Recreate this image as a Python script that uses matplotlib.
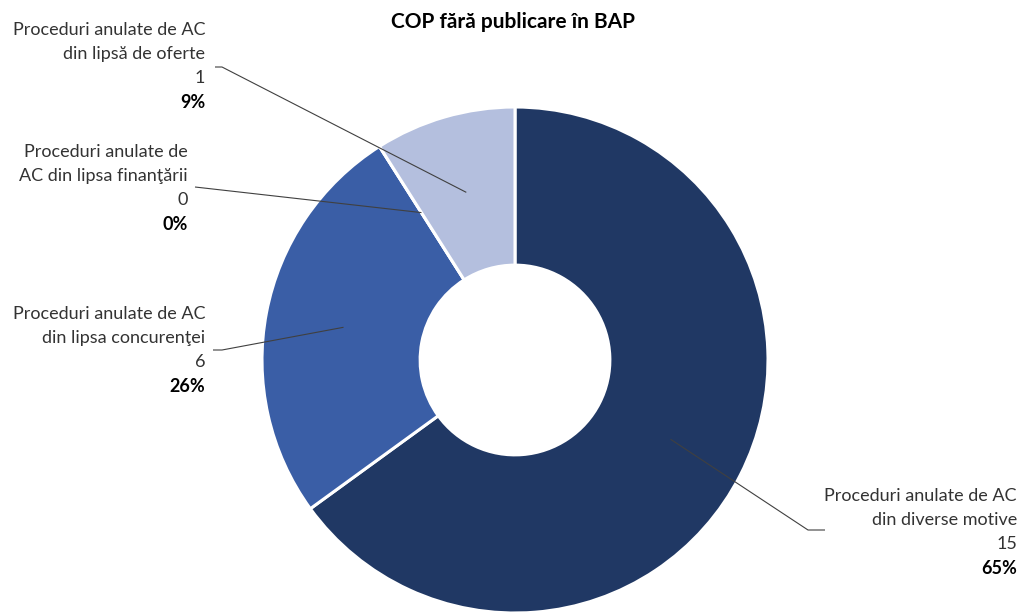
import numpy as np
import matplotlib.pyplot as plt

plt.rcParams['font.family'] = ['Lato', 'DejaVu Sans']

title = "COP fără publicare în BAP"
names = [
    "Proceduri anulate de AC\ndin diverse motive",
    "Proceduri anulate de AC\ndin lipsa concurenţei",
    "Proceduri anulate de\nAC din lipsa finanţării",
    "Proceduri anulate de AC\ndin lipsă de oferte",
]
counts = [15, 6, 0, 1]
shares = [65, 26, 0, 9]
colors = ["#203864", "#3A5EA6", "#3A5EA6", "#B4BFDE"]

W, H = 1021, 616
fig = plt.figure(figsize=(W / 100, H / 100), dpi=100)
ax = fig.add_axes([0, 0, 1, 1])

cx, cy, R = 515, H - 360, 253
wedges, _ = ax.pie(shares, colors=colors, startangle=90, counterclock=False,
                   radius=R, center=(cx, cy), frame=True,
                   wedgeprops=dict(width=R * 0.625, edgecolor='white', linewidth=2.2))
ax.set_xlim(0, W)
ax.set_ylim(0, H)
ax.set_aspect('equal')
ax.axis('off')

ax.text(513, H - 22, title, ha='center', va='center', fontsize=15, fontweight='bold')

# label layout: right edge x, first line y (pixels from top), elbow points
layout = [
    dict(x=1017, y=496, elbow=[(808, 530), (825, 530)]),
    dict(x=205, y=314, elbow=[(222, 350), (213, 350)]),
    dict(x=188, y=152, elbow=[(195, 187)]),
    dict(x=205, y=30, elbow=[(222, 67), (215, 67)]),
]

for w, name, n, s, lay in zip(wedges, names, counts, shares, layout):
    mid = np.deg2rad((w.theta1 + w.theta2) / 2)
    anchor = (cx + 0.69 * R * np.cos(mid), cy + 0.69 * R * np.sin(mid))
    pts = [anchor] + [(px, H - py) for px, py in lay['elbow']]
    xs, ys = zip(*pts)
    ax.plot(xs, ys, color='#404040', lw=0.8, solid_capstyle='butt')
    lines = name.split("\n") + [str(n)]
    for i, line in enumerate(lines):
        ax.text(lay['x'], H - (lay['y'] + 24 * i), line, ha='right', va='center',
                fontsize=13, color='#333333')
    ax.text(lay['x'], H - (lay['y'] + 24 * len(lines)), f"{s}%", ha='right',
            va='center', fontsize=13, fontweight='bold', color='black')

fig.savefig("out.png", dpi=100)
